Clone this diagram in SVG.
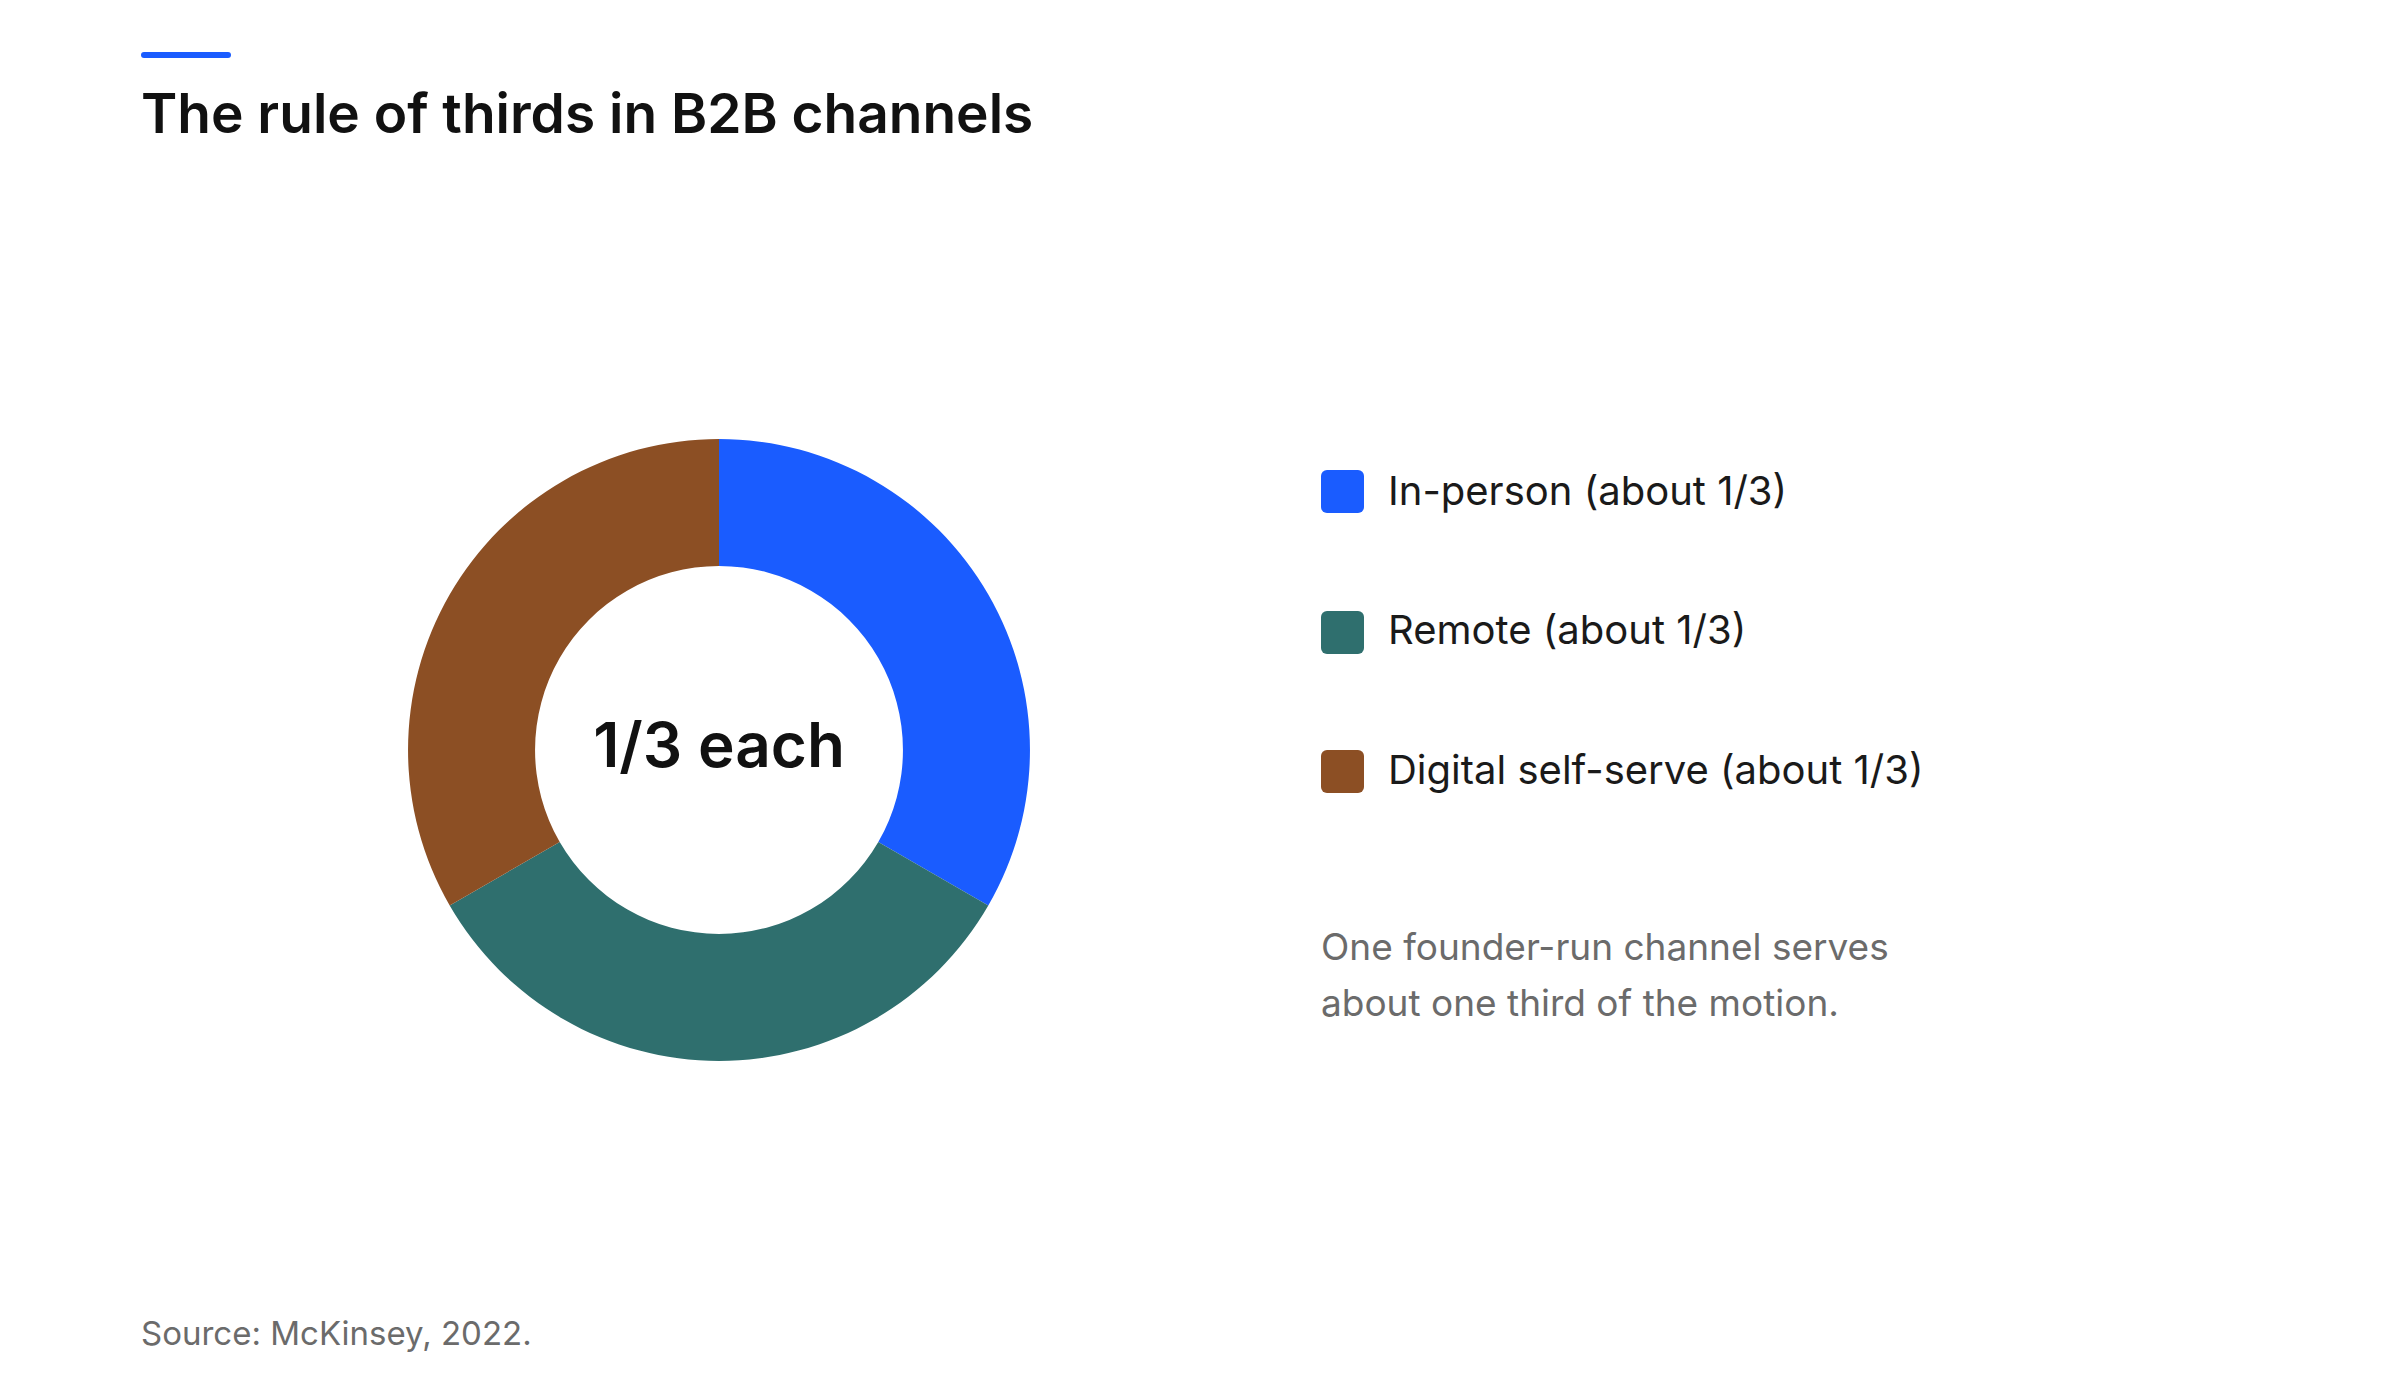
<svg xmlns="http://www.w3.org/2000/svg" width="2400" height="1400" viewBox="0 0 2400 1400">
<style>
text{font-family:Inter,"Noto Sans",sans-serif}
.lg{font-size:40px;fill:#1a1a1a}
.note{font-size:37px;fill:#6b6b6b}
</style>
<rect width="2400" height="1400" fill="#fff"/>
<rect x="141" y="52" width="90" height="6" rx="3" fill="#1a5cff"/>
<text x="141" y="133" font-size="55" font-weight="600" fill="#111">The rule of thirds in B2B channels</text>
<g id="donut">
<path id="in-person" d="M719 439 A311 311 0 0 1 988.3 905.5 L878.3 842 A184 184 0 0 0 719 566 Z" fill="#1a5cff"/>
<path id="remote" d="M988.3 905.5 A311 311 0 0 1 449.7 905.5 L559.7 842 A184 184 0 0 0 878.3 842 Z" fill="#2f6f6e"/>
<path id="digital" d="M449.7 905.5 A311 311 0 0 1 719 439 L719 566 A184 184 0 0 0 559.7 842 Z" fill="#8c4f24"/>
<text x="719" y="767" font-size="62" font-weight="600" fill="#111" text-anchor="middle">1/3 each</text>
</g>
<g id="legend">
<rect x="1321" y="470" width="43" height="43" rx="6" fill="#1a5cff"/>
<text class="lg" x="1388" y="505">In-person (about 1/3)</text>
<rect x="1321" y="611" width="43" height="43" rx="6" fill="#2f6f6e"/>
<text class="lg" x="1388" y="644">Remote (about 1/3)</text>
<rect x="1321" y="750" width="43" height="43" rx="6" fill="#8c4f24"/>
<text class="lg" x="1388" y="784">Digital self-serve (about 1/3)</text>
</g>
<text class="note" x="1321" y="960">One founder-run channel serves</text>
<text class="note" x="1321" y="1016">about one third of the motion.</text>
<text x="141" y="1345" font-size="33" fill="#6b6b6b">Source: McKinsey, 2022.</text>
<g id="connectors"/>
</svg>
